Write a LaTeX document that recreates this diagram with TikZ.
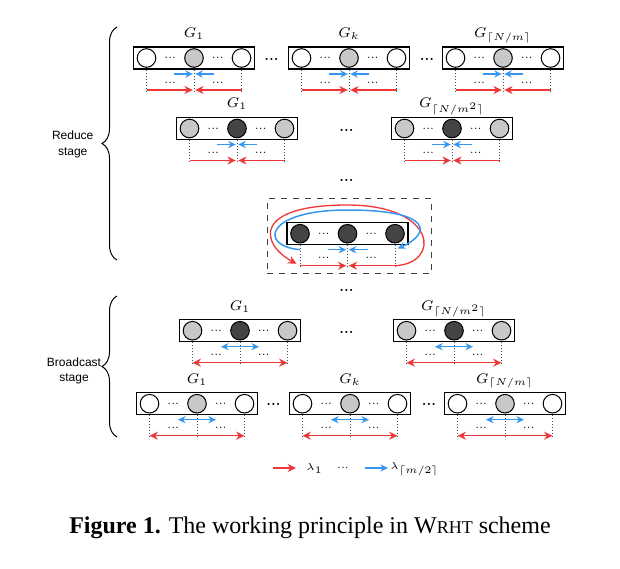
\documentclass[tikz,border=0pt]{standalone}
\usepackage{amsmath}
\usepackage{fontspec}
\setsansfont{Liberation Sans}
\newfontfamily\capfont{Liberation Serif}
\usepackage{tikz}
\usetikzlibrary{arrows.meta, calc, decorations.pathreplacing}

\definecolor{wred}{RGB}{240,55,55}
\definecolor{wblue}{RGB}{55,150,240}
\definecolor{lgray}{RGB}{200,200,200}
\definecolor{dgray}{RGB}{68,68,68}

\tikzstyle{wbox} = [rectangle, draw, line width=0.6pt, minimum width=60.5pt, minimum height=11pt, inner sep=0pt]
\tikzstyle{worker} = [circle, draw, line width=0.5pt, minimum size=9.3pt, inner sep=0pt]
\tikzstyle{glabel} = [anchor=base, inner sep=0pt, font=\fontsize{7}{8}\selectfont]
\tikzstyle{idots} = [inner sep=0pt, font=\fontsize{5.5}{6}\selectfont]
\tikzstyle{sepdots} = [inner sep=0pt, font=\fontsize{6.5}{7}\selectfont\bfseries]
\tikzstyle{drop} = [draw=black!70, densely dotted, line width=0.5pt]
\tikzstyle{rarrow} = [draw=wred, line width=0.65pt, -{Stealth[length=4.2pt,width=4pt]}]
\tikzstyle{barrow} = [draw=wblue, line width=0.75pt, -{Stealth[length=3.8pt,width=3.6pt]}]
\tikzstyle{rboth} = [draw=wred, line width=0.65pt, {Stealth[length=4.2pt,width=4pt]}-{Stealth[length=4.2pt,width=4pt]}]
\tikzstyle{bboth} = [draw=wblue, line width=0.75pt, {Stealth[length=3.8pt,width=3.6pt]}-{Stealth[length=3.8pt,width=3.6pt]}]
\tikzstyle{ringbox} = [rectangle, draw=black!75, dashed, line width=0.6pt, minimum width=82.2pt, minimum height=37.5pt]
\tikzstyle{stagebrace} = [draw, line width=0.5pt, decorate, decoration={brace, amplitude=7.5pt}]
\tikzstyle{stagelbl} = [align=center, inner sep=0pt, font=\fontsize{6}{7.8}\selectfont\sffamily]
\tikzstyle{legend} = [inner sep=0pt, font=\fontsize{5.5}{6.5}\selectfont]

% one group: name, centre x, centre y, label, outer fill, centre fill
\newcommand{\wgroup}[6]{%
  \node [wbox] (#1) at (#2,#3) {};
  \node [worker, fill=#5] (#1L) at ($(#1)+(-47.5,0)$) {};
  \node [worker, fill=#6] (#1M) at (#1) {};
  \node [worker, fill=#5] (#1R) at ($(#1)+(47.5,0)$) {};
  \node [idots] at ($(#1L)!0.5!(#1M)$) {...};
  \node [idots] at ($(#1M)!0.5!(#1R)$) {...};
  \node [glabel] (#1-lbl) at ($(#1.north)+(0,-9)$) {#4};
  \foreach \s in {L,M,R} {
    \coordinate (#1\s-blue) at ($(#1\s)+(0,16)$);
    \coordinate (#1\s-red) at ($(#1\s)+(0,32)$);
    \coordinate (#1\s-end) at ($(#1\s)+(0,35)$);
    \draw [drop] (#1\s |- #1.south) -- (#1\s-end);
  }
  \node [idots] at ($(#1L-red)!0.5!(#1M-red)+(0,-7.5)$) {...};
  \node [idots] at ($(#1M-red)!0.5!(#1R-red)+(0,-7.5)$) {...};
}
\newcommand{\reducearrows}[1]{%
  \coordinate (#1-bl) at ($(#1M-blue)+(-20,0)$);
  \coordinate (#1-br) at ($(#1M-blue)+(20,0)$);
  \draw [barrow, shorten >=0.6pt] (#1-bl) -- (#1M-blue);
  \draw [barrow, shorten >=0.6pt] (#1-br) -- (#1M-blue);
  \draw [rarrow, shorten >=0.6pt] (#1L-red) -- (#1M-red);
  \draw [rarrow, shorten >=0.6pt] (#1R-red) -- (#1M-red);
}
\newcommand{\bcastarrows}[1]{%
  \coordinate (#1-bl) at ($(#1M-blue)+(-19,0)$);
  \coordinate (#1-br) at ($(#1M-blue)+(19,0)$);
  \draw [bboth] (#1-bl) -- (#1-br);
  \draw [rboth] (#1L-red) -- (#1R-red);
}

\begin{document}
\begin{tikzpicture}[x=0.5pt, y=-0.5pt]
    \useasboundingbox (0,0) rectangle (620,568);

    % Reduce stage
    \wgroup{ua}{194}{58}{$G_1$}{white}{lgray}
    \wgroup{ub}{349}{58}{$G_k$}{white}{lgray}
    \wgroup{uc}{503}{58}{$G_{\lceil N/m\rceil}$}{white}{lgray}
    \wgroup{va}{237}{128.5}{$G_1$}{lgray}{dgray}
    \wgroup{vb}{452}{128.5}{$G_{\lceil N/m^2\rceil}$}{lgray}{dgray}
    \reducearrows{ua}
    \reducearrows{ub}
    \reducearrows{uc}
    \reducearrows{va}
    \reducearrows{vb}
    \node [sepdots] (d1) at (271.5,59) {...};
    \node [sepdots] (d2) at (427,59) {...};
    \node [sepdots] (d3) at (346.5,130) {...};
    \node [sepdots] (d4) at (346.5,180) {...};

    % Ring in the last group
    \node [ringbox] (frame) at (349.5,235.8) {};
    \wgroup{wa}{347.5}{233.7}{}{dgray}{dgray}
    \reducearrows{wa}
    \coordinate (redtop) at (347.5,205);
    \coordinate (bluetop) at (347.5,210);
    \draw [rarrow, shorten >=2pt] (waR-red) .. controls +(46,-2) and +(90,0) .. (redtop)
        .. controls +(-95,0) and +(-40,-22) .. (waL-red);
    \draw [barrow, shorten >=1.5pt] (waL-blue) .. controls +(-42,-4) and +(-82,0) .. (bluetop)
        .. controls +(86,0) and +(36,-16) .. (waR-blue);
    \node [sepdots] (d5) at (346.5,290) {...};

    % Broadcast stage
    \wgroup{xa}{240}{330.7}{$G_1$}{lgray}{dgray}
    \wgroup{xb}{454}{330.7}{$G_{\lceil N/m^2\rceil}$}{lgray}{dgray}
    \wgroup{ya}{197}{403.7}{$G_1$}{white}{lgray}
    \wgroup{yb}{350}{403.7}{$G_k$}{white}{lgray}
    \wgroup{yc}{505}{403.7}{$G_{\lceil N/m\rceil}$}{white}{lgray}
    \bcastarrows{xa}
    \bcastarrows{xb}
    \bcastarrows{ya}
    \bcastarrows{yb}
    \bcastarrows{yc}
    \node [sepdots] (d6) at (346.5,332) {...};
    \node [sepdots] (d7) at (273.5,404.5) {...};
    \node [sepdots] (d8) at (429,404.5) {...};

    % Braces
    \coordinate (rbot) at (117,260);
    \coordinate (rtop) at (117,27);
    \coordinate (bbot) at (117,437);
    \coordinate (btop) at (117,296);
    \draw [stagebrace] (rbot) -- (rtop);
    \draw [stagebrace] (bbot) -- (btop);
    \node [stagelbl] (reduce) at (72.7,144.5) {Reduce\\stage};
    \node [stagelbl] (bcast) at (74,371) {Broadcast\\stage};

    % Legend
    \coordinate (la) at (273,468);
    \coordinate (lb) at (296,468);
    \coordinate (lc) at (365,468);
    \coordinate (ld) at (388,468);
    \draw [rarrow] (la) -- (lb);
    \node [legend, anchor=west] (l1) at (306,469) {$\lambda_1$};
    \node [legend] (l2) at (343,468) {...};
    \draw [barrow] (lc) -- (ld);
    \node [legend, anchor=west] (l3) at (390,469.5) {$\lambda_{\lceil m/2\rceil}$};

    % Caption
    \node [anchor=base, inner sep=0pt, font=\capfont\fontsize{12}{14}\selectfont] (caption) at (310,533.3)
        {\textbf{Figure 1.} The working principle in W{\fontsize{9}{10}\selectfont RHT} scheme};
\end{tikzpicture}
\end{document}
